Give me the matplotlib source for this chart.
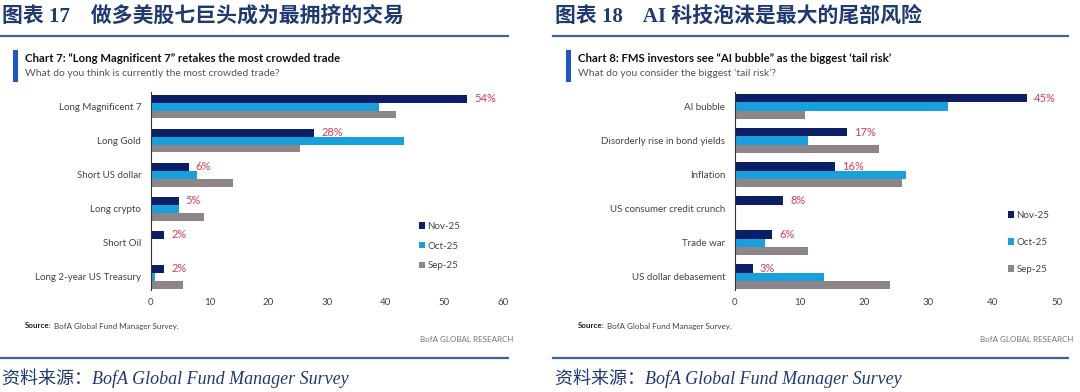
import numpy as np
import matplotlib
matplotlib.use('Agg')
import matplotlib.pyplot as plt
from matplotlib.patches import Rectangle
from matplotlib.lines import Line2D

# data
series = ['Nov-25', 'Oct-25', 'Sep-25']
colors = ['#0c1f66', '#17a0dc', '#8d8587']

trade_cats = ['Long Magnificent 7', 'Long Gold', 'Short US dollar',
              'Long crypto', 'Short Oil', 'Long 2-year US Treasury']
trade_nov = [53.9, 27.8, 6.4, 4.7, 2.3, 2.3]
trade_oct = [38.9, 43.2, 7.8, 4.8, 0, 0.6]
trade_sep = [41.7, 25.4, 13.9, 9.1, 0, 5.4]
trade_lbl = ['54%', '28%', '6%', '5%', '2%', '2%']

risk_cats = ['AI bubble', 'Disorderly rise in bond yields', 'Inflation',
             'US consumer credit crunch', 'Trade war', 'US dollar debasement']
risk_nov = [45.3, 17.4, 15.6, 7.5, 5.8, 2.8]
risk_oct = [33.1, 11.4, 26.5, 0, 4.7, 13.8]
risk_sep = [10.8, 22.4, 26.0, 0, 11.4, 24.1]
risk_lbl = ['45%', '17%', '16%', '8%', '6%', '3%']

W, H = 1080, 392
fig = plt.figure(figsize=(W / 100, H / 100), dpi=100)
fig.patch.set_facecolor('white')

def fx(x):
    return x / W

def fy(y):
    return 1 - y / H

NAVY = '#1f3a70'
LINE = '#3e6394'
CJK = ['Liberation Serif', 'Noto Sans CJK SC']
SANS = ['Lato', 'DejaVu Sans']


def panel(x0, x1, ax_l, ax_r, xmax, fig_title, chart_title, subtitle,
          cats, vals, labels, leg_x, leg_y, leg_space, bh):
    ax = fig.add_axes([fx(ax_l), fy(290), (ax_r - ax_l) / W, (290 - 92) / H])

    # header and footer
    fig.text(fx(x0 + 2), fy(16), fig_title, fontsize=15, weight='bold',
             color=NAVY, family=CJK, va='center')
    fig.add_artist(Line2D([fx(x0), fx(x1)], [fy(36), fy(36)], color=LINE, lw=1.6))
    fig.add_artist(Line2D([fx(x0), fx(x1)], [fy(358), fy(358)], color=LINE, lw=1.6))
    fig.text(fx(x0 + 2), fy(378), '资料来源：BofA Global Fund Manager Survey',
             fontsize=13, style='italic', color=NAVY, family=CJK, va='center')

    fig.add_artist(Rectangle((fx(x0 + 13), fy(82)), 5 / W, 32 / H,
                             transform=fig.transFigure, color='#1b57c6', lw=0))
    fig.text(fx(x0 + 25), fy(58), chart_title, fontsize=8.2, weight='bold',
             color='#111111', family=SANS, va='center')
    fig.text(fx(x0 + 25), fy(73), subtitle, fontsize=7.5, color='#555555',
             family=SANS, va='center')

    t = fig.text(fx(x0 + 25), fy(326), 'Source:', fontsize=5.8, weight='bold',
                 color='#222222', family=SANS, va='center')
    ax.annotate(' BofA Global Fund Manager Survey.', xy=(1, 0.5),
                xycoords=t, va='center', ha='left', fontsize=5.8,
                color='#444444', family=SANS, annotation_clip=False)
    fig.text(fx(x1 + 5), fy(339), 'BofA GLOBAL RESEARCH', fontsize=5.8,
             color='#777777', family=SANS, ha='right', va='center')

    # chart
    y = np.arange(len(cats))
    for k, (s, c) in enumerate(zip(series, colors)):
        ax.barh(y + (k - 1) * bh, vals[k], height=bh, color=c, label=s)
    for i, (v, lab) in enumerate(zip(vals[0], labels)):
        ax.annotate(lab, (v, y[i] - bh), xytext=(5, 0), textcoords='offset points',
                    va='center', ha='left', fontsize=8, color='#dc3a55', family=SANS)
    ax.set_xlim(0, xmax)
    ax.set_ylim(5.39, -0.43)
    ax.set_yticks(y)
    ax.set_yticklabels(cats)
    ax.set_xticks(np.arange(0, xmax + 1, 10))
    for sp in ['top', 'right', 'bottom']:
        ax.spines[sp].set_visible(False)
    ax.spines['left'].set_color('#333333')
    ax.spines['left'].set_linewidth(0.8)
    ax.tick_params(axis='both', length=0, labelsize=7, colors='#444444')
    ax.tick_params(axis='y', pad=7)
    ax.tick_params(axis='x', pad=6)
    for lb in ax.get_xticklabels() + ax.get_yticklabels():
        lb.set_family(SANS)
    ax.set_facecolor('none')
    ax.legend(loc='upper left', bbox_to_anchor=(fx(leg_x), fy(leg_y)),
              bbox_transform=fig.transFigure, frameon=False,
              handlelength=0.6, handleheight=0.6, handletextpad=0.25,
              labelspacing=leg_space, borderpad=0, borderaxespad=0,
              prop={'family': SANS, 'size': 7}, labelcolor='#444444')
    return ax


panel(0, 508, 151, 503, 60,
      '图表 17    做多美股七巨头成为最拥挤的交易',
      'Chart 7: \u201cLong Magnificent 7\u201d retakes the most crowded trade',
      'What do you think is currently the most crowded trade?',
      trade_cats, [trade_nov, trade_oct, trade_sep], trade_lbl,
      419, 222, 1.1, 0.232)

panel(553, 1068, 735, 1057, 50,
      '图表 18    AI 科技泡沫是最大的尾部风险',
      'Chart 8: FMS investors see \u201cAI bubble\u201d as the biggest \u2018tail risk\u2019',
      'What do you consider the biggest \u2018tail risk\u2019?',
      risk_cats, [risk_nov, risk_oct, risk_sep], risk_lbl,
      1008, 211, 1.85, 0.245)

fig.savefig('out.png', dpi=100)
